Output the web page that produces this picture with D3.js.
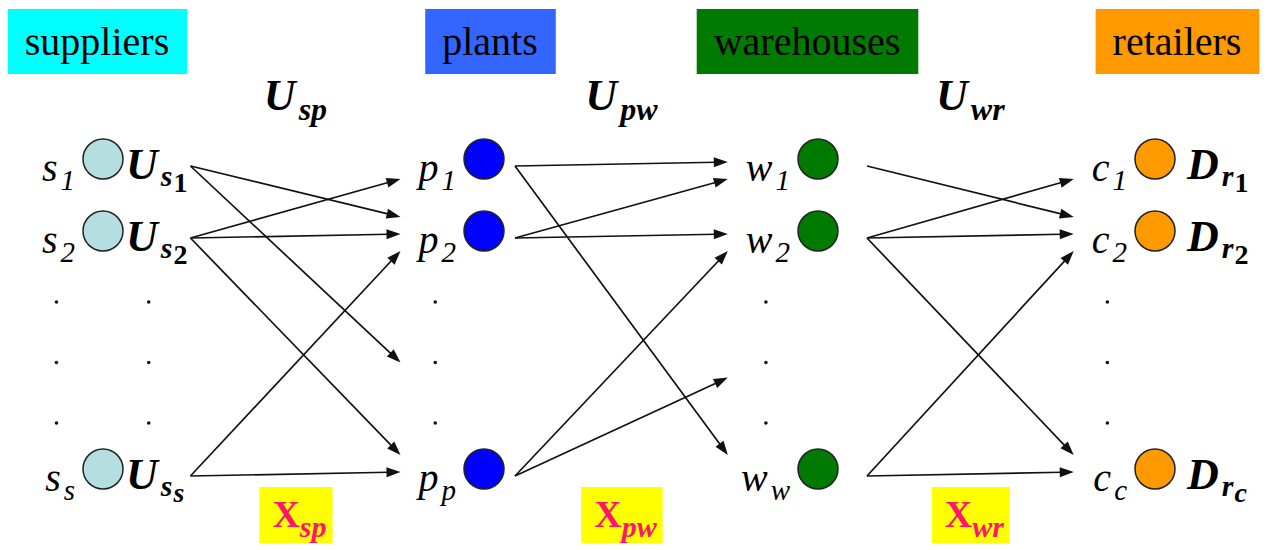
<!DOCTYPE html>
<html>
<head>
<meta charset="utf-8">
<script src="https://cdn.jsdelivr.net/npm/d3@7"></script>
<style>
  body { margin: 0; background: #fff; }
  svg { display: block; }
</style>
</head>
<body>
<svg id="diagram" width="1277" height="550"></svg>
<script>
// tiers of the supply chain
const tiers = ["suppliers", "plants", "warehouses", "retailers"];
const tierColors = ["#00FFFF", "#3366FF", "#007A00", "#FF9900"];
const nodeColors = ["#B4DEE0", "#0000FF", "#007A00", "#FF9900"];
const nodeLetters = ["s", "p", "w", "c"];
const nodeSubs = [["1", "2", "s"], ["1", "2", "p"], ["1", "2", "w"], ["1", "2", "c"]];
const nodeRows = [0, 1, 5];   // rows 2..4 are the "..." gap
const dotRows = [2, 3, 4];
// capacity / demand labels on the right of a node
const capSymbols = ["U", null, null, "D"];
const capSubs = ["s", null, null, "r"];
// flows between tiers
const flowSubs = ["sp", "pw", "wr"];
// links per stage as [source row, target row]
const linksSP = [[0, 1], [0, 3], [1, 0], [1, 1], [1, 5], [5, 1], [5, 5]];
const linksPW = [[0, 0], [0, 5], [1, 0], [1, 1], [5, 1], [5, 3.25]];
const linksWR = [[0, 1], [1, 0], [1, 1], [1, 5], [5, 1], [5, 5]];
const stages = [linksSP, linksPW, linksWR];

const FONT = "Liberation Serif";
const svg = d3.select("#diagram");
const R = 20;

const xCol = d3.scaleLinear().domain([0, 1, 2, 3]).range([103, 484, 818, 1155]);
const xHead = d3.scaleLinear().domain([0, 1, 2, 3]).range([97, 490, 807, 1177]);
const yRow = d3.scaleLinear().domain([0, 1, 2, 4, 5]).range([159, 231, 302, 423, 469]);

// text widths from a canvas, so no svg layout is forced while drawing
const ctx = document.createElement("canvas").getContext("2d");
function measure(parts) {
  return d3.sum(parts, p => {
    ctx.font = `${p.style || "normal"} ${p.weight || "normal"} ${p.size}px "${FONT}"`;
    return ctx.measureText(p.text).width + (p.dx || 0);
  });
}
function addText(sel, parts, attrs) {
  const t = sel.append("text").attr("font-family", FONT);
  Object.entries(attrs).forEach(([k, v]) => t.attr(k, v));
  parts.forEach(p => {
    const ts = t.append("tspan").attr("font-size", p.size).text(p.text);
    if (p.style) ts.attr("font-style", p.style);
    if (p.weight) ts.attr("font-weight", p.weight);
    if (p.dx) ts.attr("dx", p.dx);
    if (p.dy) ts.attr("dy", p.dy);
  });
  return measure(parts);
}

// header boxes
const headG = svg.append("g");
tiers.forEach((t, i) => {
  const w = measure([{ text: t, size: 40 }]);
  headG.append("rect")
    .attr("x", xHead(i) - w / 2 - 17).attr("width", w + 35)
    .attr("y", 9).attr("height", 65)
    .attr("fill", tierColors[i]);
});
tiers.forEach((t, i) => {
  addText(headG, [{ text: t, size: 40 }], { x: xHead(i), y: 55, "text-anchor": "middle" });
});

// nodes and their labels
const labelLeft = [], edgeStart = [];
tiers.forEach((t, i) => {
  const cx = xCol(i);
  const g = svg.append("g");
  let leftW = 0, rightX = 0, rightW = 0;
  nodeRows.forEach((r, k) => {
    const cy = yRow(r);
    g.append("circle")
      .attr("cx", cx).attr("cy", cy).attr("r", R)
      .attr("fill", nodeColors[i])
      .attr("stroke", "#222").attr("stroke-width", 1.5);

    const lparts = [
      { text: nodeLetters[i], size: 40, style: "italic" },
      { text: nodeSubs[i][k], size: 29, style: "italic", dx: 3, dy: 9 }
    ];
    const lw = addText(g, lparts, { x: cx - R - 8, y: cy + 22, "text-anchor": "end" });
    if (k === 0) leftW = lw;

    if (capSymbols[i]) {
      const sub = nodeSubs[i][k];
      const rparts = [
        { text: capSymbols[i], size: 44, style: "italic", weight: "bold" },
        { text: capSubs[i], size: 30, style: "italic", weight: "bold", dx: 3, dy: 7 },
        { text: sub, size: 28, style: /\d/.test(sub) ? "normal" : "italic", weight: "bold", dx: 1, dy: 6 }
      ];
      rightX = cx + R + (i === 0 ? 3 : 12);
      const rw = addText(g, rparts, { x: rightX, y: cy + 20 });
      rightW = Math.max(rightW, rw);
    }
  });
  const lx = cx - R - 8 - leftW;
  labelLeft.push(lx);
  edgeStart.push(i === 0 ? rightX + rightW + 3 : cx + R + (i === 1 ? 11 : 29));

  // vertical ellipsis dots
  const dotXs = [lx + leftW / 2 - 2];
  if (i === 0) dotXs.push(rightX + rightW / 2 - 8);
  dotXs.forEach(dx => {
    dotRows.forEach(r => {
      g.append("circle").attr("cx", dx).attr("cy", yRow(r)).attr("r", 1.8).attr("fill", "#111");
    });
  });
});

// links, each with its own arrowhead path
stages.forEach((links, s) => {
  const x0 = edgeStart[s];
  const x1 = labelLeft[s + 1] - 18;
  const endY = d => {
    if (!nodeRows.includes(d[1])) return yRow(d[1]);
    if (d[0] === d[1]) return yRow(d[1]) + 3;
    return d[0] > d[1] ? yRow(d[1]) + 20 : yRow(d[1]) - 14;
  };
  const g = svg.append("g");
  links.forEach(d => {
    const y0 = yRow(d[0]) + 7, y1 = endY(d);
    const ang = Math.atan2(y1 - y0, x1 - x0) * 180 / Math.PI;
    const len = Math.hypot(x1 - x0, y1 - y0);
    const a = g.append("g").attr("transform", `translate(${x0},${y0}) rotate(${ang})`);
    a.append("line")
      .attr("x1", 0).attr("y1", 0).attr("x2", len - 12).attr("y2", 0)
      .attr("stroke", "#111").attr("stroke-width", 1.7);
    a.append("path")
      .attr("d", `M${len},0L${len - 14},-5L${len - 14},5Z`)
      .attr("fill", "#111");
  });

  const mid = (x0 + x1) / 2;
  // flow capacity label
  addText(svg, [
    { text: "U", size: 44, style: "italic", weight: "bold" },
    { text: flowSubs[s], size: 32, style: "italic", weight: "bold", dx: 3, dy: 10 }
  ], { x: mid, y: 110, "text-anchor": "middle" });

  // flow variable label on a yellow box
  const xparts = [
    { text: "X", size: 38, weight: "bold" },
    { text: flowSubs[s], size: 30, style: "italic", weight: "bold", dy: 10 }
  ];
  const xw = measure(xparts);
  const gx = svg.append("g");
  gx.append("rect")
    .attr("x", mid + 4 - xw / 2 - 13).attr("width", xw + 19)
    .attr("y", 487).attr("height", 56)
    .attr("fill", "#FFFF00");
  addText(gx, xparts, { x: mid + 4, y: 527, "text-anchor": "middle", fill: "#FF1470" });
});
</script>
</body>
</html>
